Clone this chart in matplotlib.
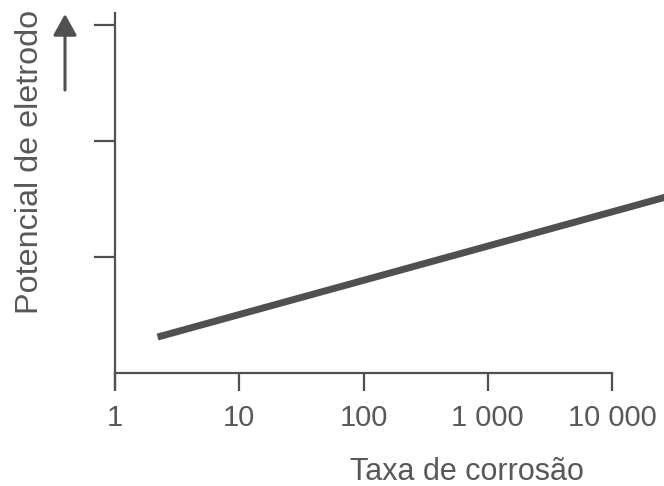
import numpy as np
import matplotlib
matplotlib.use('Agg')
import matplotlib.pyplot as plt

plt.rcParams['font.family'] = ['Liberation Sans', 'DejaVu Sans']

# corrosion rate (log scale) vs electrode potential, arbitrary units
taxa = [2.2, 30000]
potencial = [0.31, 1.53]

x_ticks = [1, 10, 100, 1000, 10000]
x_labels = ['1', '10', '100', '1 000', '10 000']
y_ticks = [1, 2, 3]

cinza = '#505050'
texto = '#585858'

fig = plt.figure(figsize=(6.64, 4.86), dpi=100)
ax = fig.add_axes([0.1732, 0.2016, 0.8268, 0.7716])

ax.plot(taxa, potencial, color=cinza, lw=5, solid_capstyle='butt')

ax.set_xscale('log')
ax.set_xlim(1, 10**4.4185)
ax.set_ylim(-0.1293, 3.1034)

ax.spines['top'].set_visible(False)
ax.spines['right'].set_visible(False)
ax.spines['bottom'].set_position(('data', 0))
ax.spines['bottom'].set_bounds(1, 10000)
for s in ['left', 'bottom']:
    ax.spines[s].set_color(cinza)
    ax.spines[s].set_linewidth(1.6)

ax.xaxis.set_ticks(x_ticks)
ax.xaxis.set_ticklabels(x_labels)
ax.xaxis.set_minor_locator(matplotlib.ticker.NullLocator())
ax.yaxis.set_ticks(y_ticks)
ax.yaxis.set_ticklabels([])
ax.tick_params(axis='both', direction='out', length=13, width=1.6, color=cinza,
               labelcolor=texto, labelsize=21)
ax.tick_params(axis='x', pad=9)
ax.tick_params(axis='y', length=15)

ax.set_xlabel('Taxa de corrosão', fontsize=22, color=texto)
ax.xaxis.set_label_coords(0.641, -0.184)

fig.text(30/664, 1 - 162/486, 'Potencial de eletrodo', rotation=90,
         ha='center', va='center', fontsize=23.3, color=texto)

# arrow next to the y label
ax.annotate('', xy=(65/664, 1 - 14/486), xytext=(65/664, 1 - 90/486),
            xycoords='figure fraction', textcoords='figure fraction',
            arrowprops=dict(arrowstyle='-|>,head_length=0.65,head_width=0.36',
                            lw=2.2, color=cinza, shrinkA=0, shrinkB=0,
                            mutation_scale=20))

fig.savefig('out.png', dpi=100)
